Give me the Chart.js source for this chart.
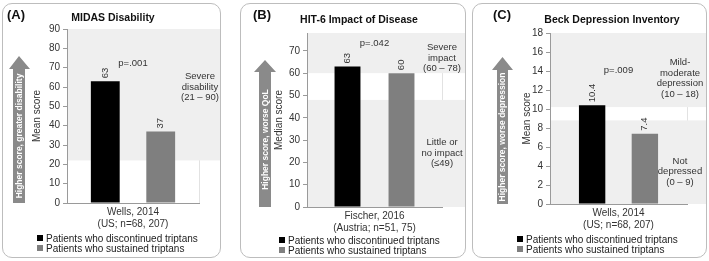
<!DOCTYPE html>
<html>
<head>
<meta charset="utf-8">
<script src="https://cdn.jsdelivr.net/npm/chart.js@4.4.1/dist/chart.umd.min.js"></script>
<style>
  body {
    margin: 0;
    width: 709px;
    height: 261px;
    background: #fff;
    font-family: "Liberation Sans", Arial, sans-serif;
    overflow: hidden;
    position: relative;
  }
  .panel {
    position: absolute;
    border: 1px solid #bdbdbd;
    border-radius: 10px;
    box-sizing: border-box;
  }
  .panel canvas { position: absolute; left: 0; top: 0; }
  .tag { position: absolute; font-weight: bold; font-size: 13px; color: #111; }
  .ttl { position: absolute; width: 200px; text-align: center; font-weight: bold; font-size: 10.5px; color: #111; }
  .leg { position: absolute; font-size: 10px; line-height: 10px; color: #222; white-space: nowrap; }
  .leg span { display: inline-block; width: 6px; height: 6px; margin-right: 3px; vertical-align: 1px; }
</style>
</head>
<body>
<script>
const tags = ["(A)", "(B)", "(C)"];
const titles = ["MIDAS Disability", "HIT-6 Impact of Disease", "Beck Depression Inventory"];
const studies = [
  ["Wells, 2014", "(US; n=68, 207)"],
  ["Fischer, 2016", "(Austria; n=51, 75)"],
  ["Wells, 2014", "(US; n=68, 207)"],
];
const seriesNames = ["Patients who discontinued triptans", "Patients who sustained triptans"];
const discontinued = [63, 63, 10.4];
const sustained = [37, 60, 7.4];
const pLabels = ["p=.001", "p=.042", "p=.009"];
const pLevels = [72, 73.5, 14.1];
const yTitles = ["Mean score", "Median score", "Mean score"];
const yMax = [90, 78, 18];
const yStep = [10, 10, 2];
const arrowTexts = [
  "Higher score, greater disability",
  "Higher score, worse QoL",
  "Higher score, worse depression",
];
// shaded ranges [from, to] on each y axis
const bands = [
  [[22, 90]],
  [[0, 48], [60, 78]],
  [[0, 8.8], [10.2, 18]],
];
const noteLevels = [[60], [66.8, 24.2], [13.2, 3.4]];
const noteTexts = [
  [["Severe", "disability", "(21 – 90)"]],
  [["Severe", "impact", "(60 – 78)"], ["Little or", "no impact", "(≤49)"]],
  [["Mild-", "moderate", "depression", "(10 – 18)"], ["Not", "depressed", "(0 – 9)"]],
];

const seriesColors = ["#000000", "#7f7f7f"];
const FONT = '"Liberation Sans", Arial, sans-serif';

// page geometry (absolute px)
const layout = [
  { box: [2, 3, 219, 255], plot: [67, 199, 29, 203], arrow: [13, 25, 9, 30, 56, 69],
    yTitleX: 37, noteX: 200, tag: [7, 7], title: [113, 11], legend: [37, 234], cat: 0.84, bar: 0.52 },
  { box: [240, 3, 226, 255], plot: [307, 442, 33, 207], arrow: [259, 271, 254, 276, 60, 72],
    yTitleX: 279, noteX: 442, tag: [253, 7], title: [359, 13], legend: [279, 236], cat: 0.8, bar: 0.48 },
  { box: [472, 3, 235, 255], plot: [550, 687, 33, 204], arrow: [497, 508, 492, 513, 57, 70],
    yTitleX: 527, noteX: 680, tag: [493, 7], title: [612, 13], legend: [517, 235], cat: 0.77, bar: 0.5 },
];

Chart.defaults.font.family = FONT;

const panelPlugin = {
  id: "panelDecor",
  beforeDatasetsDraw(chart) {
    const i = chart.config.options.panelIndex;
    const L = layout[i];
    const ctx = chart.ctx;
    const ca = chart.chartArea;
    const y = chart.scales.y;
    ctx.save();
    // faint divider at the right edge of the plot
    ctx.fillStyle = "#e2e2e2";
    ctx.fillRect(Math.round(ca.right), ca.top, 1, ca.bottom - ca.top);
    ctx.fillStyle = "#efefef";
    bands[i].forEach(([a, b]) => {
      const y1 = y.getPixelForValue(b);
      const y2 = y.getPixelForValue(a);
      ctx.fillRect(ca.left + 1, y1, chart.width - 1 - ca.left, y2 - y1);
    });
    // arrow
    const ox = L.box[0] + 1, oy = L.box[1] + 1;
    const [x0, x1, h0, h1, tip, base] = L.arrow;
    const cx = (x0 + x1) / 2 - ox;
    const bottom = ca.bottom;
    ctx.fillStyle = "#8a8a8a";
    ctx.beginPath();
    ctx.moveTo(cx, tip - oy);
    ctx.lineTo(h1 - ox, base - oy);
    ctx.lineTo(x1 - ox, base - oy);
    ctx.lineTo(x1 - ox, bottom);
    ctx.lineTo(x0 - ox, bottom);
    ctx.lineTo(x0 - ox, base - oy);
    ctx.lineTo(h0 - ox, base - oy);
    ctx.closePath();
    ctx.fill();
    ctx.translate(cx, (base - oy + bottom) / 2);
    ctx.rotate(-Math.PI / 2);
    ctx.fillStyle = "#fff";
    ctx.font = "bold 8.5px " + FONT;
    ctx.textAlign = "center";
    ctx.textBaseline = "middle";
    ctx.fillText(arrowTexts[i], 0, 0.5);
    ctx.restore();
  },
  afterDatasetsDraw(chart) {
    const i = chart.config.options.panelIndex;
    const L = layout[i];
    const ctx = chart.ctx;
    const x = chart.scales.x;
    const y = chart.scales.y;
    const ox = L.box[0] + 1;
    ctx.save();
    ctx.fillStyle = "#333";
    ctx.font = "9.5px " + FONT;
    // value labels, rotated
    chart.data.datasets.forEach((ds, k) => {
      chart.getDatasetMeta(k).data.forEach((bar, j) => {
        ctx.save();
        ctx.translate(bar.x, bar.y - 3);
        ctx.rotate(-Math.PI / 2);
        ctx.textAlign = "left";
        ctx.textBaseline = "middle";
        ctx.fillText(String(ds.data[j]), 0, 0);
        ctx.restore();
      });
    });
    ctx.textAlign = "center";
    ctx.textBaseline = "middle";
    ctx.fillText(pLabels[i], x.getPixelForValue(0), y.getPixelForValue(pLevels[i]));
    // band notes
    noteTexts[i].forEach((lines, n) => {
      const cy = y.getPixelForValue(noteLevels[i][n]);
      const lh = 10.5;
      lines.forEach((t, m) => {
        ctx.fillText(t, L.noteX - ox, cy + (m - (lines.length - 1) / 2) * lh);
      });
    });
    ctx.restore();
  },
};

layout.forEach((L, i) => {
  const [bx, by, bw, bh] = L.box;
  const panel = document.createElement("div");
  panel.className = "panel";
  panel.style.left = bx + "px";
  panel.style.top = by + "px";
  panel.style.width = bw + "px";
  panel.style.height = bh + "px";
  document.body.appendChild(panel);

  const cw = bw - 2, ch = 232;
  const canvas = document.createElement("canvas");
  canvas.width = cw;
  canvas.height = ch;
  canvas.style.width = cw + "px";
  canvas.style.height = ch + "px";
  panel.appendChild(canvas);

  const ox = bx + 1, oy = by + 1;
  const tag = document.createElement("div");
  tag.className = "tag";
  tag.textContent = tags[i];
  tag.style.left = L.tag[0] - ox + "px";
  tag.style.top = L.tag[1] - oy + "px";
  panel.appendChild(tag);

  const ttl = document.createElement("div");
  ttl.className = "ttl";
  ttl.textContent = titles[i];
  ttl.style.left = L.title[0] - ox - 100 + "px";
  ttl.style.top = L.title[1] - oy + "px";
  panel.appendChild(ttl);

  const leg = document.createElement("div");
  leg.className = "leg";
  leg.style.left = L.legend[0] - ox + "px";
  leg.style.top = L.legend[1] - oy + "px";
  leg.innerHTML = seriesNames
    .map((n, k) => `<div><span style="background:${seriesColors[k]}"></span>${n}</div>`)
    .join("");
  panel.appendChild(leg);

  const [pl, pr, pt, pb] = L.plot;
  const plotLeft = pl - ox;
  const xH = 30;
  new Chart(canvas, {
    type: "bar",
    data: {
      labels: [studies[i]],
      datasets: seriesNames.map((name, k) => ({
        label: name,
        data: [k === 0 ? discontinued[i] : sustained[i]],
        backgroundColor: seriesColors[k],
        categoryPercentage: L.cat,
        barPercentage: L.bar,
      })),
    },
    options: {
      panelIndex: i,
      responsive: false,
      animation: false,
      layout: {
        padding: { left: 0, top: pt - oy, right: cw - (pr - ox), bottom: ch - (pb - oy) - xH },
      },
      plugins: { legend: { display: false }, tooltip: { enabled: false } },
      scales: {
        x: {
          grid: { display: false, drawTicks: false },
          border: { color: "#9a9a9a" },
          ticks: { color: "#333", font: { size: 10 }, padding: 3, maxRotation: 0, autoSkip: false },
          afterFit(s) { s.height = xH; },
        },
        y: {
          min: 0,
          max: yMax[i],
          ticks: { stepSize: yStep[i], color: "#333", font: { size: 10 }, padding: 3 },
          grid: { drawOnChartArea: false, tickLength: 4, color: "#9a9a9a" },
          border: { color: "#9a9a9a" },
          title: {
            display: true,
            text: yTitles[i],
            color: "#333",
            font: { size: 10 },
            padding: { top: L.yTitleX - ox - 6, bottom: 0 },
          },
          afterBuildTicks(s) { s.ticks = s.ticks.filter((t) => Math.abs(t.value % yStep[i]) < 1e-6); },
          afterFit(s) { s.width = plotLeft; },
        },
      },
    },
    plugins: [panelPlugin],
  });
});
</script>
</body>
</html>
